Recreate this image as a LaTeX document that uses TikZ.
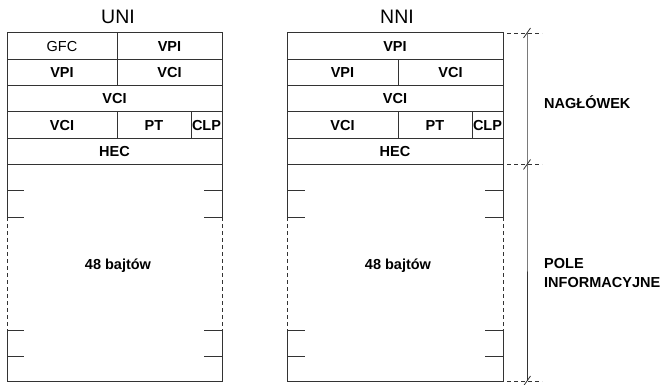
\documentclass[tikz,border=0pt]{standalone}
\usepackage{fontspec}
\setmainfont{Liberation Sans}
\usepackage{xcolor}
\usepackage{tikz}
\usetikzlibrary{calc,positioning}

\begin{document}
\begin{tikzpicture}[x=1pt, y=-1pt,
    cell/.style={draw=black!80, line width=1pt, minimum height=26.3pt, inner sep=0pt, font=\fontsize{14.5}{16}\selectfont\bfseries},
    celltitle/.style={font=\fontsize{19.5}{22}\selectfont},
    frame/.style={draw=black!80, line width=1pt},
    dashframe/.style={draw=black!80, line width=1pt, dash pattern=on 4pt off 3pt},
    sidelabel/.style={anchor=west, align=left, inner sep=0pt, font=\fontsize{14.5}{19}\selectfont\bfseries}]

\useasboundingbox (0,0) rectangle (667,385);

% Titles
\node[celltitle] (unititle) at (118,17) {UNI};
\node[celltitle] (nnititle) at (397,17) {NNI};

% UNI header
\node[cell, minimum width=110pt] (unigfc) at (62,46.15) {\mdseries GFC};
\node[cell, minimum width=105pt] (univpia) at (169.5,46.15) {\raisebox{-3pt}{VPI}};
\node[cell, minimum width=110pt] (univpib) at (62,72.45) {VPI};
\node[cell, minimum width=105pt] (univcia) at (169.5,72.45) {VCI};
\node[cell, minimum width=215pt] (univcib) at (114.5,98.75) {VCI};
\node[cell, minimum width=110pt] (univcic) at (62,125.05) {VCI};
\node[cell, minimum width=74pt] (unipt) at (154,125.05) {PT};
\node[cell, minimum width=31pt] (uniclp) at (206.5,125.05) {CLP};
\node[cell, minimum width=215pt] (unihec) at (114.5,151.35) {HEC};

% NNI header
\node[cell, minimum width=216pt] (nnivpia) at (395,46.15) {VPI};
\node[cell, minimum width=111pt] (nnivpib) at (342.5,72.45) {VPI};
\node[cell, minimum width=105pt] (nnivcia) at (450.5,72.45) {VCI};
\node[cell, minimum width=216pt] (nnivcib) at (395,98.75) {VCI};
\node[cell, minimum width=111pt] (nnivcic) at (342.5,125.05) {VCI};
\node[cell, minimum width=74pt] (nnipt) at (435,125.05) {PT};
\node[cell, minimum width=31pt] (nniclp) at (487.5,125.05) {CLP};
\node[cell, minimum width=216pt] (nnihec) at (395,151.35) {HEC};

% UNI payload
\draw[frame] (7,164.5) -- (7,217) (222,164.5) -- (222,217);
\draw[dashframe] (7,217) -- (7,330) (222,217) -- (222,330);
\draw[frame] (7,330) -- (7,381) -- (222,381) -- (222,330);
\draw[frame] (7,191) -- (24,191) (7,217) -- (24,217) (7,330) -- (24,330) (7,356) -- (24,356);
\draw[frame] (204,191) -- (222,191) (204,217) -- (222,217) (204,330) -- (222,330) (204,356) -- (222,356);
\node[font=\fontsize{14.5}{16}\selectfont\bfseries] (unidata) at (118,266) {48 bajtów};

% NNI payload
\draw[frame] (287,164.5) -- (287,217) (503,164.5) -- (503,217);
\draw[dashframe] (287,217) -- (287,330) (503,217) -- (503,330);
\draw[frame] (287,330) -- (287,381) -- (503,381) -- (503,330);
\draw[frame] (287,191) -- (305,191) (287,217) -- (305,217) (287,330) -- (305,330) (287,356) -- (305,356);
\draw[frame] (485,191) -- (503,191) (485,217) -- (503,217) (485,330) -- (503,330) (485,356) -- (503,356);
\node[font=\fontsize{14.5}{16}\selectfont\bfseries] (nnidata) at (398,266) {48 bajtów};

% Dimension line on the right
\coordinate (dimtop) at (527,33);
\coordinate (dimmid) at (527,164.5);
\coordinate (dimbot) at (527,381);
\draw[dashframe, line width=0.8pt] (507,33) -- (542,33) (507,164.5) -- (542,164.5) (507,381) -- (542,381);
\draw[frame] (dimtop) -- (dimmid) -- (dimbot);
\foreach \p in {dimtop,dimmid,dimbot}
    \draw[frame, line width=0.8pt] ($(\p)+(-3.5,5)$) -- ($(\p)+(3.5,-5)$);

% Labels
\node[sidelabel] (header) at (544,102) {NAGŁÓWEK};
\node[sidelabel] (payload) at (544,273.5) {POLE\\INFORMACYJNE};

\end{tikzpicture}
\end{document}
